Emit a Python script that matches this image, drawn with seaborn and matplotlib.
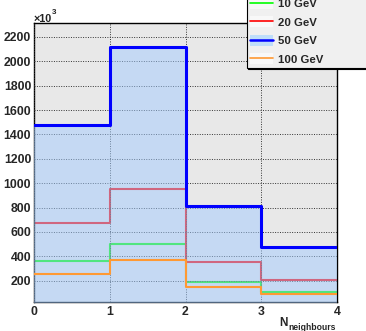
import numpy as np
import pandas as pd
import matplotlib
matplotlib.use("Agg")
import matplotlib.pyplot as plt
import seaborn as sns
from matplotlib.lines import Line2D
from matplotlib.patches import Patch

# ---- data (values in units of 10^3) ----
bin_edges = [0, 1, 2, 3, 4]
bin_centers = [0.5, 1.5, 2.5, 3.5]
vals_10gev = [362, 504, 187, 105]
vals_20gev = [676, 953, 356, 208]
vals_50gev = [1480, 2120, 815, 476]
vals_100gev = [257, 372, 151, 88]
labels = ["10 GeV", "20 GeV", "50 GeV", "100 GeV"]
x_ticks = [0, 1, 2, 3, 4]
y_ticks = [200, 400, 600, 800, 1000, 1200, 1400, 1600, 1800, 2000, 2200]

sns.set_style("white")
plt.rcParams["font.family"] = ["Liberation Sans", "DejaVu Sans"]
plt.rcParams["font.weight"] = "bold"

W, H = 366, 331
fig = plt.figure(figsize=(W / 100, H / 100), dpi=100)
ax = fig.add_axes([34 / W, (H - 302) / H, (337 - 34) / W, (302 - 22.7) / H])
ax.set_facecolor("#e8e8e8")

c_green = "#00ff00"
c_red = "#ff0000"
c_blue = "#0000ff"
c_orange = "#ff9933"
c_fill = (0.64, 0.80, 1.0)

df = pd.DataFrame({"x": bin_centers, "w10": vals_10gev, "w20": vals_20gev,
                   "w50": vals_50gev, "w100": vals_100gev})

sns.histplot(data=df, x="x", weights="w10", bins=bin_edges, element="step",
             fill=False, color=c_green, linewidth=1.5, ax=ax, zorder=2)
sns.histplot(data=df, x="x", weights="w20", bins=bin_edges, element="step",
             fill=False, color=c_red, linewidth=1.5, ax=ax, zorder=2)
sns.histplot(data=df, x="x", weights="w50", bins=bin_edges, element="step",
             fill=True, color=c_fill, alpha=0.5, linewidth=0, ax=ax, zorder=3)
sns.histplot(data=df, x="x", weights="w50", bins=bin_edges, element="step",
             fill=False, color=c_blue, linewidth=2.2, ax=ax, zorder=4)
sns.histplot(data=df, x="x", weights="w100", bins=bin_edges, element="step",
             fill=False, color=c_orange, linewidth=1.5, ax=ax, zorder=4)

ax.set_xlim(0, 4)
ax.set_ylim(25, 2317)
ax.set_xlabel("")
ax.set_ylabel("")
ax.set_xticks(x_ticks)
ax.set_xticklabels([str(t) for t in x_ticks])
ax.set_yticks(y_ticks)
ax.set_yticklabels([str(t) for t in y_ticks])
ax.set_yticks(np.arange(50, 2317, 50), minor=True)
ax.tick_params(axis="both", which="major", direction="in", labelsize=8.8,
               color="#333333", width=0.8)
ax.tick_params(axis="y", which="major", length=6, pad=2)
ax.tick_params(axis="y", which="minor", direction="in", length=3,
               color="#333333", width=0.6)
ax.tick_params(axis="x", which="major", length=5, pad=3)
for lab in ax.get_xticklabels() + ax.get_yticklabels():
    lab.set_fontweight("bold")

ax.grid(True, which="major", linestyle=(0, (1, 1.5)), color="#333333",
        linewidth=0.7)
ax.set_axisbelow(False)
for s in ax.spines.values():
    s.set_color("black")
    s.set_linewidth(1.0)
    s.set_visible(True)

fig.text(34 / W, 1 - 21.5 / H, "\u00d710", ha="left", va="baseline",
         fontsize=7.8, fontweight="bold", color="#222222")
fig.text(51.5 / W, 1 - 14.5 / H, "3", ha="left", va="baseline",
         fontsize=5.8, fontweight="bold", color="#222222")

fig.text(279 / W, 1 - 326 / H, "N", ha="left", va="baseline",
         fontsize=8.5, fontweight="bold")
fig.text(288 / W, 1 - 330 / H, "neighbours", ha="left", va="baseline",
         fontsize=6.2, fontweight="bold")

bg = "#f8f8f8"
handles = [
    (Patch(facecolor=bg, edgecolor="none"), Line2D([], [], color=c_green, lw=1.2)),
    (Patch(facecolor=bg, edgecolor="none"), Line2D([], [], color=c_red, lw=1.2)),
    (Patch(facecolor=(0.75, 0.87, 0.98), edgecolor="none"), Line2D([], [], color=c_blue, lw=1.8)),
    (Patch(facecolor=bg, edgecolor="none"), Line2D([], [], color=c_orange, lw=1.2)),
]
leg = fig.legend(handles, labels, loc="lower left",
                 bbox_to_anchor=(247 / W, 1 - 68 / H, 0.4, 0.1), mode="expand",
                 prop={"weight": "bold", "size": 8.2},
                 frameon=True, fancybox=False,
                 shadow={"color": "black", "alpha": 1.0, "ox": 1, "oy": -1},
                 handlelength=2.0, handleheight=1.1, handletextpad=0.4,
                 labelspacing=0.62, borderpad=0.3, borderaxespad=0)
leg.get_frame().set_facecolor("#f0f0f0")
leg.get_frame().set_edgecolor("black")
leg.get_frame().set_linewidth(0.8)

fig.savefig("out.png", dpi=100)
